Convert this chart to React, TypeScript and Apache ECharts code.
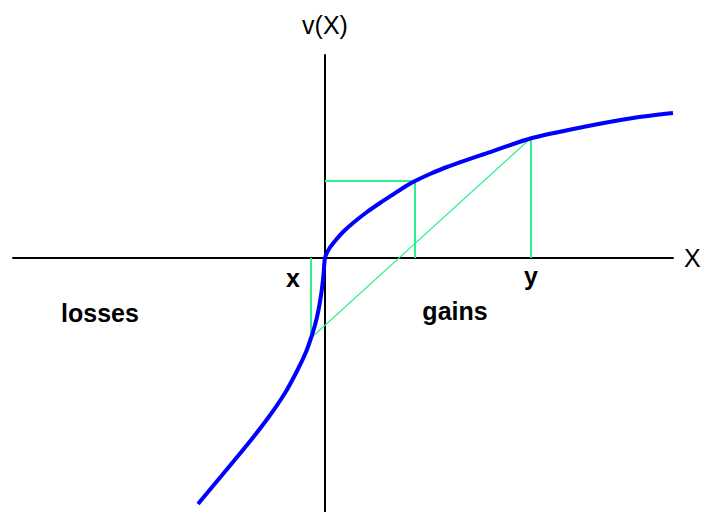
import React, { useEffect, useRef } from "react";
import * as echarts from "echarts";

// Value function curve (x = outcome, v = value)
const curveX = [-127, -102, -78, -57, -40, -28, -19, -14, -10, -6.5, -3.5, -1.5, 0, 4, 10, 18, 28, 42, 55, 68, 82, 90, 105, 122, 158, 207, 258, 308, 348];
const curveV = [-246, -216, -187, -160, -135, -113, -94, -80, -67, -52, -34, -17, 0, 9, 17, 26, 35, 46, 55, 63.5, 72.5, 77, 84, 91, 103.5, 120, 131, 140, 145];

// Construction points
const lossX = -14;
const lossV = -80;
const gainY = 206;
const gainYV = 120;
const midX = 90;
const midV = 77;

// Annotation texts and their data positions
const noteTexts = ["x", "y", "losses", "gains"];
const noteX = [-32, 206, -225, 130];
const noteV = [-20, -18, -55, -53];

const xMin = -312;
const xMax = 348;
const vMin = -254;
const vMax = 203;

export default function App() {
  const ref = useRef<HTMLDivElement>(null);
  useEffect(() => {
    if (!ref.current) return;
    const chart = echarts.init(ref.current, null, { renderer: "svg" });
    const green = "#2ef08c";
    const seg = (a: number[][], w = 2) => ({
      type: "line",
      data: a,
      symbol: "none",
      lineStyle: { color: green, width: w },
      z: 1,
      silent: true,
    });
    chart.setOption({
      animation: false,
      backgroundColor: "#ffffff",
      grid: { left: 13, right: 29, top: 55, bottom: 0, containLabel: false, outerBoundsMode: "none" },
      xAxis: {
        type: "value",
        min: xMin,
        max: xMax,
        name: "X",
        nameLocation: "end",
        nameGap: 11,
        nameTextStyle: { fontFamily: "Liberation Sans", fontSize: 25, color: "#000", verticalAlign: "middle", align: "left" },
        axisLine: { onZero: true, lineStyle: { color: "#000", width: 2 } },
        axisTick: { show: false },
        axisLabel: { show: false },
        splitLine: { show: false },
      },
      yAxis: {
        type: "value",
        min: vMin,
        max: vMax,
        name: "v(X)",
        nameLocation: "end",
        nameGap: 18,
        nameTextStyle: { fontFamily: "Liberation Sans", fontSize: 25, color: "#000", align: "center" },
        axisLine: { onZero: true, lineStyle: { color: "#000", width: 2 } },
        axisTick: { show: false },
        axisLabel: { show: false },
        splitLine: { show: false },
      },
      series: [
        seg([[0, midV], [midX, midV]]),
        seg([[midX, midV], [midX, 0]]),
        seg([[gainY, gainYV], [gainY, 0]]),
        seg([[lossX, 0], [lossX, lossV]]),
        seg([[lossX, lossV], [gainY, gainYV]], 1.2),
        {
          type: "line",
          data: curveX.map((x, i) => [x, curveV[i]]),
          symbol: "none",
          smooth: 0.25,
          lineStyle: { color: "#0000ff", width: 4 },
          z: 3,
          silent: true,
        },
        {
          type: "scatter",
          data: noteTexts.map((t, i) => ({ name: t, value: [noteX[i], noteV[i]] })),
          symbolSize: 0,
          silent: true,
          itemStyle: { opacity: 1 },
          label: {
            show: true,
            position: "inside",
            formatter: (p: any) => p.name,
            fontFamily: "Liberation Sans",
            fontSize: 25,
            fontWeight: "bold",
            color: "#000",
          },
        },
      ],
    });
    return () => chart.dispose();
  }, []);
  return (
    <div
      ref={ref}
      style={{ position: "fixed", left: 0, top: 0, width: 702, height: 512, background: "#fff" }}
    />
  );
}
